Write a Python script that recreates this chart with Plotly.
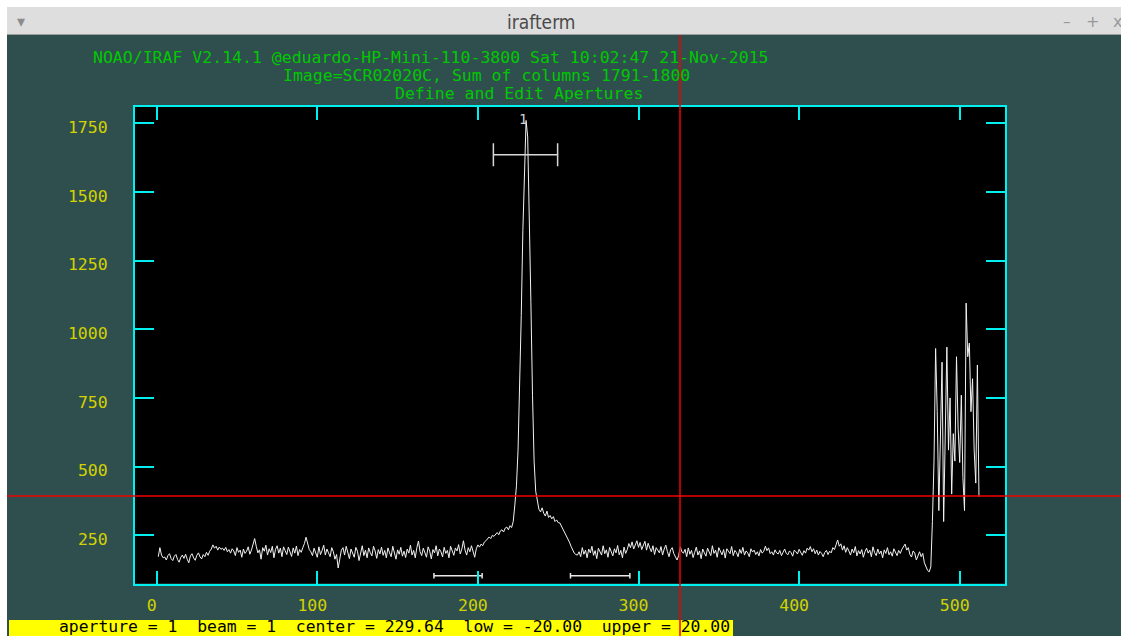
import plotly.graph_objects as go

W, H = 1121, 636

# ---------------- data ----------------
# profile: sum of columns 1791-1800, one value per line (line 1 .. 512)
baseline_left = [
    172, 205, 178, 168, 171, 160, 176, 183, 165, 158, 174, 180, 162, 152, 170, 178, 166, 181, 163, 150,
    175, 183, 168, 159, 177, 186, 171, 164, 180, 172, 188, 177, 192, 200, 215, 203, 210, 196, 207, 199,
    203, 195, 206, 190, 198, 185, 201, 193, 176, 205, 188, 196, 170, 200, 184, 192, 208, 181, 196, 214,
    238, 210, 186, 197, 163, 205, 192, 214, 178, 201, 187, 210, 168, 199, 212, 185, 203, 172, 208, 194,
    180, 207, 190, 173, 204, 185, 211, 176, 198, 188, 205, 220, 243, 215, 198, 190, 176, 203, 186, 170,
    208, 180, 195, 214, 178, 200, 186, 172, 205, 190, 163, 180, 131, 170, 196, 205, 178, 210, 188, 165,
    200, 182, 170, 206, 192, 158, 185, 212, 176, 196, 168, 204, 187, 175, 210, 193, 166, 198, 182, 207,
    177, 195, 168, 204, 186, 172, 210, 190, 163, 197, 181, 206, 174, 192, 169, 200, 185, 214, 178, 195,
    168, 205, 229, 190, 176, 203, 185, 170, 208, 192, 164, 198, 186, 212, 175, 200, 190, 171, 206, 184,
    195, 168, 210, 189, 177, 204, 193, 216, 182, 200, 230, 196, 178, 205, 190, 212, 186, 170, 201, 215,
]
wing_left = [207, 218, 212, 225, 230, 236, 244, 238, 250, 246, 255, 260, 252, 266, 270, 262,
             276, 280, 270, 285, 278, 300]
peak = [360, 430, 560, 760, 1050, 1360, 1620, 1760, 1700, 1450, 1100, 760, 520, 410, 370, 345,
        335, 350]
wing_right = [330, 320, 338, 315, 322, 310, 318, 300, 306, 296, 295, 284, 270, 262, 250, 240,
              225, 210, 196, 185, 180, 178]
baseline_right = [
    190, 172, 205, 181, 196, 168, 200, 186, 210, 177, 194, 165, 203, 188, 178, 212, 183, 197, 170, 206,
    189, 175, 201, 186, 213, 179, 195, 168, 207, 184, 198, 220, 205, 226, 200, 218, 230, 206, 224, 198,
    215, 228, 196, 221, 204, 190, 212, 180, 205, 196, 186, 209, 178, 200, 214, 191, 172, 197, 205, 183,
    168, 160, 176, 208, 190, 185, 199, 172, 204, 181, 195, 169, 188, 207, 178, 193, 165, 200, 186, 174,
    203, 190, 176, 212, 184, 196, 170, 205, 188, 179, 198, 167, 201, 192, 183, 209, 176, 195, 187, 172,
    199, 184, 206, 178, 193, 186, 172, 201, 189, 196, 180, 190, 175, 198, 185, 192, 210, 194, 204, 183,
    190, 178, 197, 186, 182, 195, 176, 188, 200, 184, 179, 193, 187, 174, 196, 190, 182, 199, 188, 177,
    194, 185, 203, 196, 209, 190, 201, 183, 196, 178, 191, 184, 172, 188, 195, 180, 192, 186, 205, 198,
    215, 233, 210, 219, 196, 212, 188, 205, 193, 178, 200, 186, 209, 175, 194, 182, 198, 170, 190, 203,
    185, 196, 172, 208, 187, 176, 200, 182, 193, 168, 197, 184, 205, 179, 190, 174, 201, 188, 176, 195,
    184, 199, 207, 218, 196, 205, 180, 171, 193, 185, 160, 178, 190, 172, 184, 150, 138, 122, 117, 135,
]
edge_noise = [300, 520, 930, 700, 340, 560, 880, 300, 650, 935, 560, 750, 400, 620, 520, 900,
              640, 515, 760, 460, 340, 1095, 900, 950, 700, 820, 560, 440, 870, 390]

counts = baseline_left + wing_left + peak + wing_right + baseline_right + edge_noise
lines = list(range(1, len(counts) + 1))

# aperture definition (from the status line)
ap_id = "1"
ap_center = 229.64
ap_low = -20.00
ap_upper = 20.00
# background sample regions, relative to the aperture center
bg_regions = [(-57.0, -27.0), (28.0, 65.0)]

x_ticks = [0, 100, 200, 300, 400, 500]
y_ticks = [250, 500, 750, 1000, 1250, 1500, 1750]

header_lines = [
    "NOAO/IRAF V2.14.1 @eduardo-HP-Mini-110-3800 Sat 10:02:47 21-Nov-2015",
    "Image=SCR02020C, Sum of columns 1791-1800",
    "Define and Edit Apertures",
]
status_text = ("aperture = 1  beam = 1  center = 229.64  low = -20.00  upper = 20.00")
window_title = "irafterm"

# ---------------- styling ----------------
SLATE = "#2F4F4F"
CYAN = "#00F0F0"
GREEN = "#00C800"
YELLOW = "#D2D200"
RED = "#F00000"
MONO = "DejaVu Sans Mono, Liberation Mono, monospace"
FS = 16.5


def fx(px):
    return px / W


def fy(py):
    return 1 - py / H


fig = go.Figure()

fig.add_trace(go.Scatter(x=lines, y=counts, mode="lines",
                         line=dict(color="#F2F2F2", width=1), hoverinfo="skip"))

# aperture bar
ap_y, ap_cap = 1635, 42
a0, a1 = ap_center + ap_low, ap_center + ap_upper
fig.add_trace(go.Scatter(
    x=[a0, a0, None, a0, a1, None, a1, a1],
    y=[ap_y - ap_cap, ap_y + ap_cap, None, ap_y, ap_y, None, ap_y - ap_cap, ap_y + ap_cap],
    mode="lines", line=dict(color="#D8D8D8", width=1.5), hoverinfo="skip"))

# background sample bars
bg_y, bg_cap = 103, 10
bx, by = [], []
for lo, hi in bg_regions:
    b0, b1 = ap_center + lo, ap_center + hi
    bx += [b0, b0, None, b0, b1, None, b1, b1, None]
    by += [bg_y - bg_cap, bg_y + bg_cap, None, bg_y, bg_y, None, bg_y - bg_cap, bg_y + bg_cap, None]
fig.add_trace(go.Scatter(x=bx, y=by, mode="lines",
                         line=dict(color="#E8E8E8", width=1.5), hoverinfo="skip"))

shapes = [
    # white window margins
    dict(type="rect", xref="paper", yref="paper", x0=0, x1=fx(7), y0=0, y1=1,
         fillcolor="white", line=dict(width=0), layer="below"),
    dict(type="rect", xref="paper", yref="paper", x0=0, x1=1, y0=fy(7), y1=1,
         fillcolor="white", line=dict(width=0), layer="below"),
    # title bar
    dict(type="rect", xref="paper", yref="paper", x0=fx(7), x1=1, y0=fy(34), y1=fy(7),
         fillcolor="#DEDEDE", line=dict(width=0), layer="below"),
    dict(type="line", xref="paper", yref="paper", x0=fx(7), x1=1, y0=fy(34.5), y1=fy(34.5),
         line=dict(color="#9C9C9C", width=1), layer="below"),
    # yellow status bar
    dict(type="rect", xref="paper", yref="paper", x0=fx(9), x1=fx(733), y0=0, y1=fy(620),
         fillcolor="#FFFF00", line=dict(width=0), layer="below"),
    # red crosshair cursor
    dict(type="line", xref="paper", yref="paper", x0=fx(680), x1=fx(680), y0=0, y1=fy(35),
         line=dict(color=RED, width=1.5), layer="above"),
    dict(type="line", xref="paper", yref="paper", x0=fx(7), x1=1, y0=fy(496), y1=fy(496),
         line=dict(color=RED, width=1.5), layer="above"),
]

ctrl = dict(xref="paper", yref="paper", showarrow=False, xanchor="center", yanchor="middle")
annotations = [
    dict(text=window_title, x=fx(541), y=fy(22),
         font=dict(family="Liberation Sans Narrow, DejaVu Sans Condensed, Roboto Condensed, sans-serif",
                   size=19, color="#4A4A4A"), **ctrl),
    dict(text="\u25BE", x=fx(21), y=fy(21),
         font=dict(family="DejaVu Sans", size=16, color="#8C8C8C"), **ctrl),
    dict(text="\u2013", x=fx(1067), y=fy(22),
         font=dict(family="DejaVu Sans", size=15, color="#999999"), **ctrl),
    dict(text="+", x=fx(1092), y=fy(22),
         font=dict(family="DejaVu Sans", size=16, color="#999999"), **ctrl),
    dict(text="x", x=fx(1117), y=fy(21),
         font=dict(family="DejaVu Sans", size=16, color="#999999"), **ctrl),
    # aperture label
    dict(text=ap_id, x=ap_center - 1.5, y=1766, xref="x", yref="y", showarrow=False,
         font=dict(family=MONO, size=14, color="#D0D0D0")),
    # status line
    dict(text=status_text, x=fx(58), y=fy(626), xref="paper", yref="paper",
         showarrow=False, xanchor="left", yanchor="middle", borderpad=0,
         font=dict(family=MONO, size=16.4, color="black")),
]
header_pos = [(91, 57), (281, 75), (393, 93)]
for txt, (hx, hy) in zip(header_lines, header_pos):
    annotations.append(dict(text=txt, x=fx(hx), y=fy(hy), xref="paper", yref="paper",
                            showarrow=False, xanchor="left", yanchor="middle",
                            font=dict(family=MONO, size=FS, color=GREEN)))

axis_common = dict(showline=True, linecolor=CYAN, linewidth=2, mirror="ticks",
                   ticks="inside", tickcolor=CYAN, tickwidth=2, showgrid=False,
                   zeroline=False, tickfont=dict(family=MONO, size=FS, color=YELLOW),
                   fixedrange=True)

fig.update_layout(
    width=W, height=H, autosize=False,
    margin=dict(l=0, r=0, t=0, b=0, pad=0),
    paper_bgcolor=SLATE, plot_bgcolor="black",
    showlegend=False,
    shapes=shapes, annotations=annotations,
    xaxis=dict(domain=[fx(135), fx(1005)], range=[-13.5, 528.2], tickvals=x_ticks,
               ticklen=13, ticklabelstandoff=6, ticklabelshift=-5, **axis_common),
    yaxis=dict(domain=[fy(583.5), fy(107)], range=[74.5, 1809], tickvals=y_ticks,
               ticklen=19, ticklabelstandoff=22, ticklabelshift=4, **axis_common),
)

fig.write_html("out.html", config=dict(displayModeBar=False),
               post_script="document.body.style.margin='0';document.body.style.overflow='hidden';")
